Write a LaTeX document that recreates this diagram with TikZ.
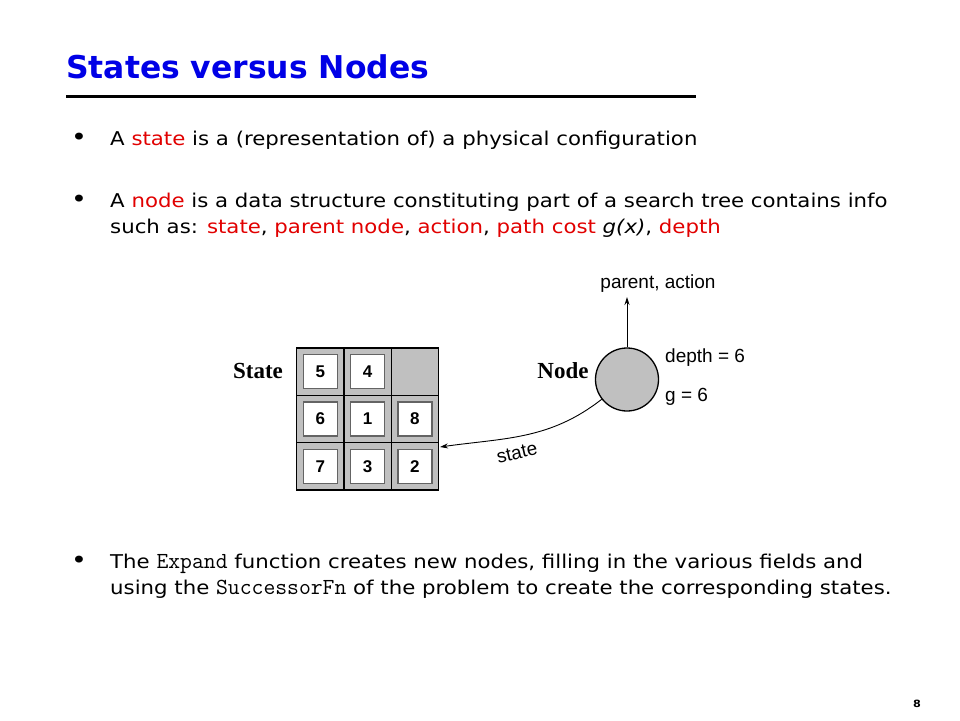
\documentclass[tikz,border=0pt]{standalone}
\usepackage{fontspec}
\setmainfont{DejaVu Sans}[FakeStretch=1.12]
\newfontfamily\titlefont{DejaVu Sans Bold}
\newfontfamily\diagfont{Liberation Sans}
\newfontfamily\serifbold{Liberation Serif}[BoldFont={Liberation Serif Bold}]
\newfontfamily\codefont{Latin Modern Mono}
\usetikzlibrary{arrows.meta, shapes}

\definecolor{titleblue}{RGB}{0,0,230}
\definecolor{hot}{RGB}{225,0,0}
\definecolor{tilegray}{RGB}{192,192,192}
\definecolor{edgegray}{RGB}{100,100,100}

\begin{document}
\begin{tikzpicture}[x=1pt,y=1pt]
    \tikzstyle{txt}=[inner sep=0pt, anchor=base west, font=\fontsize{19}{26}\selectfont]
    \tikzstyle{dot}=[inner sep=0pt, font=\fontsize{24}{24}\selectfont]
    \tikzstyle{cell}=[draw=black, fill=tilegray, line width=1.2pt, minimum size=47.3pt, inner sep=0pt]
    \tikzstyle{tile}=[draw=edgegray, fill=white, line width=1.3pt, minimum size=34pt, inner sep=0pt,
        font=\diagfont\bfseries\fontsize{17}{17}\selectfont]
    \tikzstyle{lbl}=[inner sep=0pt, font=\diagfont\fontsize{19}{19}\selectfont]
    \tikzstyle{big}=[inner sep=0pt, font=\serifbold\bfseries\fontsize{23}{23}\selectfont]
    \tikzstyle{e}=[-{Stealth[length=8pt,width=5pt]}, line width=0.9pt]

    \def\dx{47.3}
    \def\code#1{{\codefont\fontsize{23}{23}\selectfont #1}}

    \useasboundingbox (0,0) rectangle (960,-720);

    % title
    \node[inner sep=0pt, anchor=base west, text=titleblue,
        font=\titlefont\fontsize{31.4}{31.4}\selectfont] (title) at (66,-78) {States versus Nodes};
    \draw[line width=3pt] (66,-96) -- (696,-96);

    % bullets
    \node[dot] (d1) at (79,-139) {•};
    \node[txt] (l1) at (110,-145) {A \textcolor{hot}{state} is a (representation of) a physical configuration};
    \node[dot] (d2) at (79,-201) {•};
    \node[txt] (l2) at (110,-207) {A \textcolor{hot}{node} is a data structure constituting part of a search tree contains info};
    \node[txt] (l3) at (110,-233) {such as: \textcolor{hot}{state}, \textcolor{hot}{parent node}, \textcolor{hot}{action}, \textcolor{hot}{path cost} \textit{g(x)}, \textcolor{hot}{depth}};
    \node[dot] (d3) at (79,-562) {•};
    \node[txt] (l4) at (110,-568) {The \code{Expand} function creates new nodes, filling in the various fields and};
    \node[txt] (l5) at (110,-594) {using the \code{SuccessorFn} of the problem to create the corresponding states.};

    % the 8-puzzle state
    \node[cell] (c5) at (320.3,-371.7) {};
    \node[cell] (c4) at (320.3+\dx,-371.7) {};
    \node[cell] (c0) at (320.3+2*\dx,-371.7) {};
    \node[cell] (c6) at (320.3,-371.7-\dx) {};
    \node[cell] (c1) at (320.3+\dx,-371.7-\dx) {};
    \node[cell] (c8) at (320.3+2*\dx,-371.7-\dx) {};
    \node[cell] (c7) at (320.3,-371.7-2*\dx) {};
    \node[cell] (c3) at (320.3+\dx,-371.7-2*\dx) {};
    \node[cell] (c2) at (320.3+2*\dx,-371.7-2*\dx) {};
    \node[tile] (t5) at (c5) {5};
    \node[tile] (t4) at (c4) {4};
    \node[tile] (t6) at (c6) {6};
    \node[tile] (t1) at (c1) {1};
    \node[tile] (t8) at (c8) {8};
    \node[tile] (t7) at (c7) {7};
    \node[tile] (t3) at (c3) {3};
    \node[tile] (t2) at (c2) {2};
    \node[big] (state) at (258,-371) {State};

    % the search node
    \node[circle, draw=black, fill=tilegray, line width=1.3pt, minimum size=63pt, inner sep=0pt] (nd) at (627,-379.5) {};
    \node[big] (ndlbl) at (563,-371) {Node};
    \node[lbl] (parent) at (658,-284) {parent, action};
    \node[lbl, anchor=west] (depth) at (665,-358) {depth = 6};
    \node[lbl, anchor=west] (g) at (665,-397) {g = 6};
    \node[lbl, rotate=13] (stlbl) at (517,-453) {state};
    \coordinate (stend) at (440,-447);

    \draw[e] (nd.north) -- (627,-297);
    \draw[e] (nd.218) to[out=218, in=8] (stend);

    % page number
    \node[inner sep=0pt, font=\bfseries\fontsize{10}{10}\selectfont] (pg) at (917,-704) {8};

\end{tikzpicture}
\end{document}
